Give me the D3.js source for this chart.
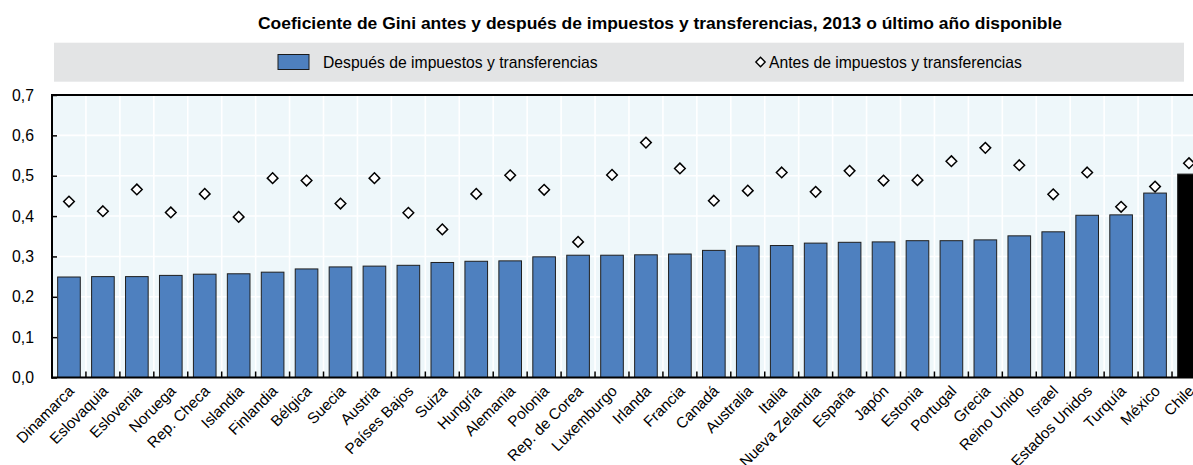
<!DOCTYPE html>
<html><head><meta charset="utf-8">
<script src="https://cdn.jsdelivr.net/npm/d3@7"></script>
<style>
html,body{margin:0;padding:0;background:#fff;overflow:hidden;}
text{font-family:"Liberation Sans",Arial,Helvetica,sans-serif;fill:#000;}
</style></head>
<body><svg id="chart" width="1193" height="465"></svg>
<script>
const countries = ["Dinamarca","Eslovaquia","Eslovenia","Noruega","Rep. Checa","Islandia","Finlandia","Bélgica","Suecia","Austria","Países Bajos","Suiza","Hungría","Alemania","Polonia","Rep. de Corea","Luxemburgo","Irlanda","Francia","Canadá","Australia","Italia","Nueva Zelandia","España","Japón","Estonia","Portugal","Grecia","Reino Unido","Israel","Estados Unidos","Turquía","México","Chile"];
const afterTax = [0.249,0.250,0.250,0.253,0.256,0.257,0.261,0.269,0.274,0.276,0.278,0.285,0.288,0.289,0.299,0.303,0.303,0.304,0.306,0.315,0.326,0.327,0.333,0.335,0.336,0.339,0.339,0.341,0.351,0.361,0.402,0.403,0.457,0.504];
const beforeTax = [0.436,0.412,0.466,0.409,0.455,0.398,0.494,0.488,0.431,0.494,0.408,0.367,0.455,0.501,0.465,0.336,0.502,0.582,0.518,0.438,0.463,0.508,0.460,0.512,0.488,0.489,0.536,0.569,0.526,0.454,0.508,0.423,0.473,0.531];
const yTicks = [0,0.1,0.2,0.3,0.4,0.5,0.6,0.7];
const highlight = "Chile";
const titleText = "Coeficiente de Gini antes y después de impuestos y transferencias, 2013 o último año disponible";
const legendAfter = "Después de impuestos y transferencias";
const legendBefore = "Antes de impuestos y transferencias";

const svg = d3.select("#chart");
const pLeft = 52, pTop = 95, pBottom = 377.5;
const step = 33.94;
const pRight = pLeft + step * countries.length;
const pad = 0.333;

const x = d3.scaleBand().domain(countries).range([pLeft, pRight]).paddingInner(pad).paddingOuter(pad/2);
const y = d3.scaleLinear().domain([0, 0.7]).range([pBottom, pTop]);
const edge = d => x(d) - x.step()*pad/2;

// Title
svg.append("text").attr("x", 258).attr("y", 29)
  .attr("font-size", 17).attr("font-weight", "bold")
  .attr("textLength", 804).attr("lengthAdjust", "spacingAndGlyphs")
  .text(titleText);

// Legend box
svg.append("rect").attr("x", 54).attr("y", 42.7).attr("width", 1130).attr("height", 39).attr("fill", "#e3e4e5");
svg.append("rect").attr("x", 278).attr("y", 54.5).attr("width", 31).attr("height", 15)
  .attr("fill", "#4e80bf").attr("stroke", "#1a1a1a").attr("stroke-width", 1);
svg.append("text").attr("x", 323).attr("y", 68).attr("font-size", 15.7).text(legendAfter);
svg.append("path").attr("d", d3.symbol().type(d3.symbolDiamond2).size(55)())
  .attr("transform", "translate(760.5,62)")
  .attr("fill", "#fff").attr("stroke", "#000").attr("stroke-width", 1.4);
svg.append("text").attr("x", 769).attr("y", 68).attr("font-size", 15.7).text(legendBefore);

// Plot background
svg.append("rect").attr("x", pLeft).attr("y", pTop).attr("width", pRight - pLeft).attr("height", pBottom - pTop).attr("fill", "#eef7fa");

// Gridlines
svg.append("g").selectAll("line").data(yTicks.filter(d => d > 0 && d < 0.7)).join("line")
  .attr("x1", pLeft).attr("x2", pRight).attr("y1", d => y(d)).attr("y2", d => y(d))
  .attr("stroke", "#fff").attr("stroke-width", 1.6);
svg.append("g").selectAll("line").data(countries.slice(1)).join("line")
  .attr("x1", edge).attr("x2", edge)
  .attr("y1", pTop).attr("y2", pBottom)
  .attr("stroke", "#fff").attr("stroke-width", 1.6);

// Bars
svg.append("g").selectAll("rect").data(countries).join("rect")
  .attr("x", d => x(d)).attr("width", x.bandwidth())
  .attr("y", (d, i) => y(afterTax[i])).attr("height", (d, i) => pBottom - y(afterTax[i]))
  .attr("fill", d => d === highlight ? "#000" : "#4e80bf")
  .attr("stroke", "#1f1f1f").attr("stroke-width", 1);

// Diamonds
svg.append("g").selectAll("path").data(countries).join("path")
  .attr("d", d3.symbol().type(d3.symbolDiamond2).size(72)())
  .attr("transform", (d, i) => `translate(${x(d) + x.bandwidth()/2},${y(beforeTax[i])})`)
  .attr("fill", "#fff").attr("stroke", "#000").attr("stroke-width", 1.5);

// Borders
svg.append("line").attr("x1", pLeft).attr("x2", pRight).attr("y1", pTop).attr("y2", pTop).attr("stroke", "#000").attr("stroke-width", 2);
svg.append("line").attr("x1", pLeft).attr("x2", pLeft).attr("y1", pTop - 1).attr("y2", pBottom + 1).attr("stroke", "#000").attr("stroke-width", 2);

// Y axis
const yAxis = d3.axisLeft(y).tickValues(yTicks).tickSize(-5).tickPadding(18)
  .tickFormat(d => d3.format(".1f")(d).replace(".", ","));
const gy = svg.append("g").attr("transform", `translate(${pLeft},0)`).call(yAxis);
gy.select(".domain").remove();
gy.selectAll(".tick line").attr("stroke", "#000").attr("stroke-width", 1.5);
gy.selectAll(".tick text").attr("font-size", 15.8).attr("font-family", "Liberation Sans, Arial, sans-serif").attr("fill", "#000");

// X axis
const xAxis = d3.axisBottom(x).tickSize(0).tickFormat("");
const gx = svg.append("g").attr("transform", `translate(0,${pBottom})`).call(xAxis);
gx.select(".domain").remove();
svg.append("g").selectAll("line").data(countries.slice(1)).join("line")
  .attr("x1", edge).attr("x2", edge)
  .attr("y1", pBottom).attr("y2", pBottom - 6)
  .attr("stroke", "#000").attr("stroke-width", 1.5);
svg.append("line").attr("x1", pLeft - 1).attr("x2", pRight).attr("y1", pBottom).attr("y2", pBottom).attr("stroke", "#000").attr("stroke-width", 2.2);

svg.append("g").selectAll("text").data(countries).join("text")
  .attr("transform", d => `translate(${x(d) + x.bandwidth()/2 + 6},392) rotate(-45)`)
  .attr("text-anchor", "end").attr("font-size", 15.3)
  .text(d => d);
</script></body></html>
